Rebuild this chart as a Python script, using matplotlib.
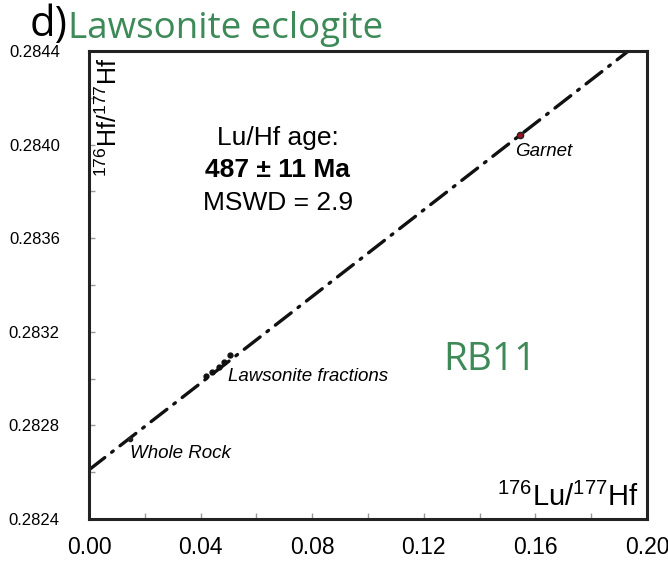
import numpy as np
import matplotlib
matplotlib.use("Agg")
import matplotlib.pyplot as plt
from matplotlib.ticker import MultipleLocator

plt.rcParams['font.family'] = ['Liberation Sans', 'DejaVu Sans']
plt.rcParams['mathtext.default'] = 'regular'

# isochron fit (176Hf/177Hf vs 176Lu/177Hf)
intercept = 0.28261
slope = 0.00926

# analysed fractions
wr_x = [0.0147]
wr_y = [0.28274]
law_x = [0.0420, 0.0440, 0.0465, 0.0485, 0.0505]
law_y = [0.28301, 0.28303, 0.28305, 0.28307, 0.28310]
grt_x = [0.1545]
grt_y = [0.28404]

xlim = (0.0, 0.20)
ylim = (0.2824, 0.2844)
xticks = [0.00, 0.04, 0.08, 0.12, 0.16, 0.20]
yticks = [0.2824, 0.2828, 0.2832, 0.2836, 0.2840, 0.2844]

green = '#3d8a58'

fig = plt.figure(figsize=(6.68, 5.61), dpi=100)
ax = fig.add_axes([0.1332, 0.0749, 0.8354, 0.8341])

xs = np.array(xlim)
ax.plot(xs, intercept + slope * xs, color='#111111', lw=2.4,
        ls=(0, (6, 2.6, 0.6, 2.6)), dash_capstyle='round', zorder=2)

ax.plot(wr_x, wr_y, 'o', ms=3, color='#222222', zorder=3)
ax.plot(law_x, law_y, 'o', ms=3.5, color='#111111', zorder=3)
ax.plot(grt_x, grt_y, 'o', ms=4.5, mfc='#a01020', mec='#222222', mew=1, zorder=3)

ax.set_xlim(*xlim)
ax.set_ylim(*ylim)
ax.set_xticks(xticks)
ax.set_yticks(yticks)
ax.set_xticklabels(['%.2f' % v for v in xticks])
ax.set_yticklabels(['%.4f' % v for v in yticks])
ax.xaxis.set_minor_locator(MultipleLocator(0.02))
ax.yaxis.set_minor_locator(MultipleLocator(0.0002))
ax.tick_params(which='both', direction='in', color='#999999', width=1, length=4)
ax.tick_params(axis='y', labelsize=12, pad=21)
ax.tick_params(axis='x', labelsize=16.5, pad=12)
for s in ax.spines.values():
    s.set_linewidth(2.2)
    s.set_color('#222222')

# axis titles sit inside the frame
ax.text(0.012, 0.985, r'$^{176}$Hf/$^{177}$Hf', transform=ax.transAxes,
        rotation=90, fontsize=18, ha='left', va='top')
ax.text(0.985, 0.015, r'$^{176}$Lu/$^{177}$Hf', transform=ax.transAxes,
        fontsize=21, ha='right', va='bottom')

ax.text(0.0677, 0.28403, 'Lu/Hf age:', fontsize=19, ha='center', va='center')
ax.text(0.0677, 0.28389, '487 ± 11 Ma', fontsize=19, fontweight='bold',
        ha='center', va='center')
ax.text(0.0677, 0.28375, 'MSWD = 2.9', fontsize=19, ha='center', va='center')

ax.text(0.1527, 0.28397, 'Garnet', fontsize=13.5, style='italic', va='center')
ax.text(0.0498, 0.28301, 'Lawsonite fractions', fontsize=13.5, style='italic',
        va='center')
ax.text(0.0147, 0.28268, 'Whole Rock', fontsize=13.5, style='italic',
        va='center')

ax.text(0.1437, 0.28308, 'RB11', fontsize=28, color=green, family='Open Sans',
        ha='center', va='center')

fig.text(0.045, 0.936, 'd)', fontsize=30, family='Open Sans', ha='left',
         va='baseline')
fig.text(0.102, 0.932, 'Lawsonite eclogite', fontsize=26.5, color=green,
         family='Open Sans', ha='left', va='baseline')

fig.savefig('out.png', dpi=100)
